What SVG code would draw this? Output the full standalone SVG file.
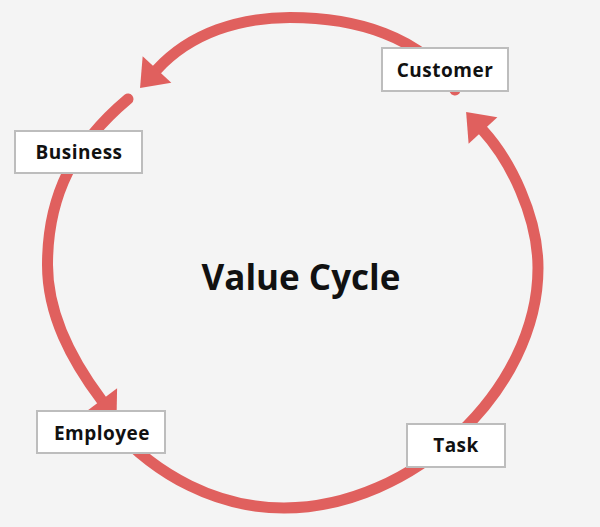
<svg xmlns="http://www.w3.org/2000/svg" width="600" height="527" viewBox="0 0 600 527">
<style>
.arc{fill:none;stroke:#e0605e;stroke-width:11;stroke-linecap:round}
.box{fill:#ffffff;stroke:#bdbdbd;stroke-width:2}
.lbl{font-family:"Open Sans","Noto Sans",sans-serif;font-weight:700;font-size:19px;letter-spacing:0.5px;fill:#111;text-anchor:middle}
.title{font-family:"Open Sans","Noto Sans",sans-serif;font-weight:700;font-size:35px;fill:#111;text-anchor:middle}
</style>
<defs>
<marker id="ah" viewBox="0 -20 26 40" markerWidth="26" markerHeight="40" refX="0" refY="0" orient="auto" markerUnits="userSpaceOnUse" overflow="visible">
<path d="M0,-19.5 L25,0 L0,19.5 Z" fill="#e0605e"/>
</marker>
</defs>
<rect width="600" height="527" fill="#f4f4f4"/>
<g id="connectors">
<path id="customer-business" class="arc" marker-end="url(#ah)" d="M455,90 C423.5,35.4 353,17.5 290,17.5 C240,17.5 190.9,32.7 157,69.5"/>
<path id="business-employee" class="arc" marker-end="url(#ah)" d="M128,99 C74.4,144 47.5,195 47.5,265 C47.5,315 71.5,360 101.5,400"/>
<path id="employee-customer" class="arc" marker-end="url(#ah)" d="M112,426 C156.8,475.8 217,508 284,508 C412,508 538,390 538,268 C538,216 510,160 483,130.5"/>
</g>
<g id="title"><text class="title" x="301" y="290">Value Cycle</text></g>
<g id="customer"><rect class="box" x="382" y="48" width="126" height="43"/><text class="lbl" x="445" y="77">Customer</text></g>
<g id="business"><rect class="box" x="15" y="131" width="127" height="42"/><text class="lbl" x="79" y="159">Business</text></g>
<g id="employee"><rect class="box" x="37" y="411" width="128" height="42"/><text class="lbl" x="102" y="440">Employee</text></g>
<g id="task"><rect class="box" x="407" y="424" width="98" height="43"/><text class="lbl" x="456" y="452">Task</text></g>
</svg>
